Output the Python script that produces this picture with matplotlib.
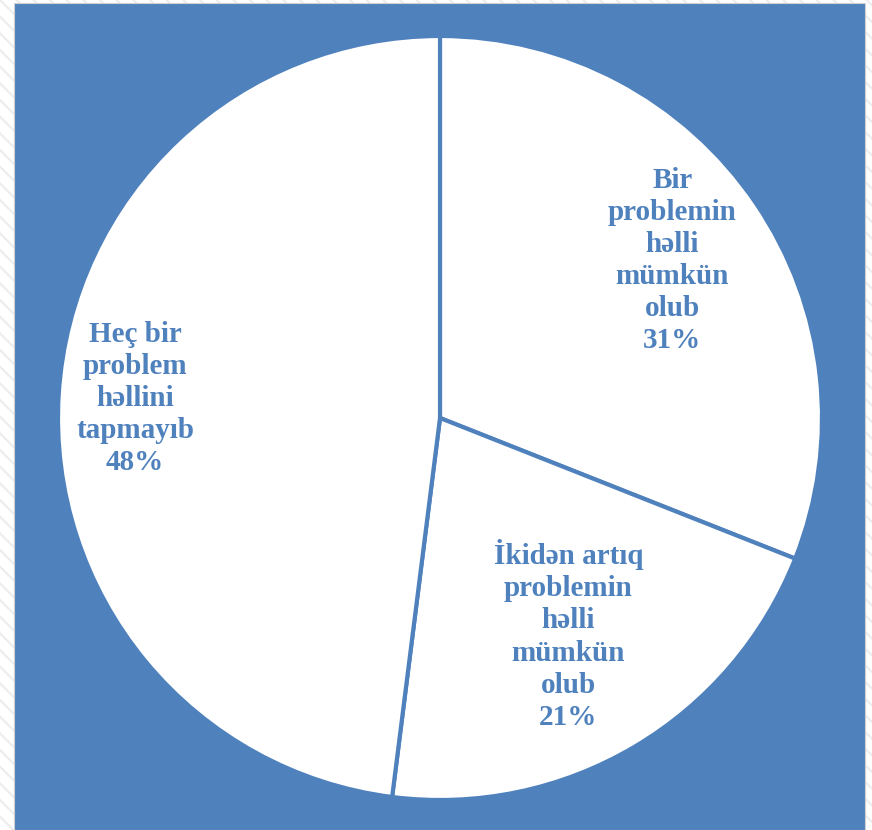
import numpy as np
import matplotlib
import matplotlib.pyplot as plt
from matplotlib.patches import Rectangle

matplotlib.use("Agg")

# --------------------------------------------------------------------------------------------------
# Data
# --------------------------------------------------------------------------------------------------
labels = ["Bir\nproblemin\nhəlli\nmümkün\nolub",
          "İkidən artıq\nproblemin\nhəlli\nmümkün\nolub",
          "Heç bir\nproblem\nhəllini\ntapmayıb"]
shares = [31, 21, 48]

# label distance from centre, as a fraction of the radius
label_dist = [0.735, 0.66, 0.80]

blue = '#4F81BD'

# --------------------------------------------------------------------------------------------------
# Figure
# --------------------------------------------------------------------------------------------------
plt.rcParams['hatch.linewidth'] = 1.5
fig = plt.figure(figsize=(8.72, 8.30), dpi=100)
fig.patch.set_facecolor('white')

# faint hatched page background
fig.patches.append(Rectangle((0, 0), 1, 1, transform=fig.transFigure, facecolor='white',
                             edgecolor='#ececec', hatch='\\\\', linewidth=0, zorder=-2))
# blue chart area
fig.patches.append(Rectangle((14/872, 0), 851/872, 827/830, transform=fig.transFigure,
                             facecolor=blue, edgecolor='#d0d0d0', linewidth=0.8, zorder=-1))

ax = fig.add_axes([0, 0, 1, 1])
ax.set_zorder(1)
ax.axis('off')

cx, cy, R = 440, 830 - 418, 382
wedges, _ = ax.pie(shares, startangle=90, counterclock=False, center=(cx, cy), radius=R,
                   colors=['white'] * len(shares),
                   wedgeprops=dict(edgecolor=blue, linewidth=3))
ax.set_xlim(0, 872)
ax.set_ylim(0, 830)
ax.set_aspect('equal')

for w, lab, d, v in zip(wedges, labels, label_dist, shares):
    ang = np.deg2rad((w.theta1 + w.theta2) / 2)
    x = cx + d * R * np.cos(ang)
    y = cy + d * R * np.sin(ang)
    ax.text(x, y, lab + "\n" + str(v) + "%", ha='center', va='center', color=blue,
            fontsize=21, fontweight='bold', family='Liberation Serif', linespacing=1.24)

plt.savefig('out.png', dpi=100)
